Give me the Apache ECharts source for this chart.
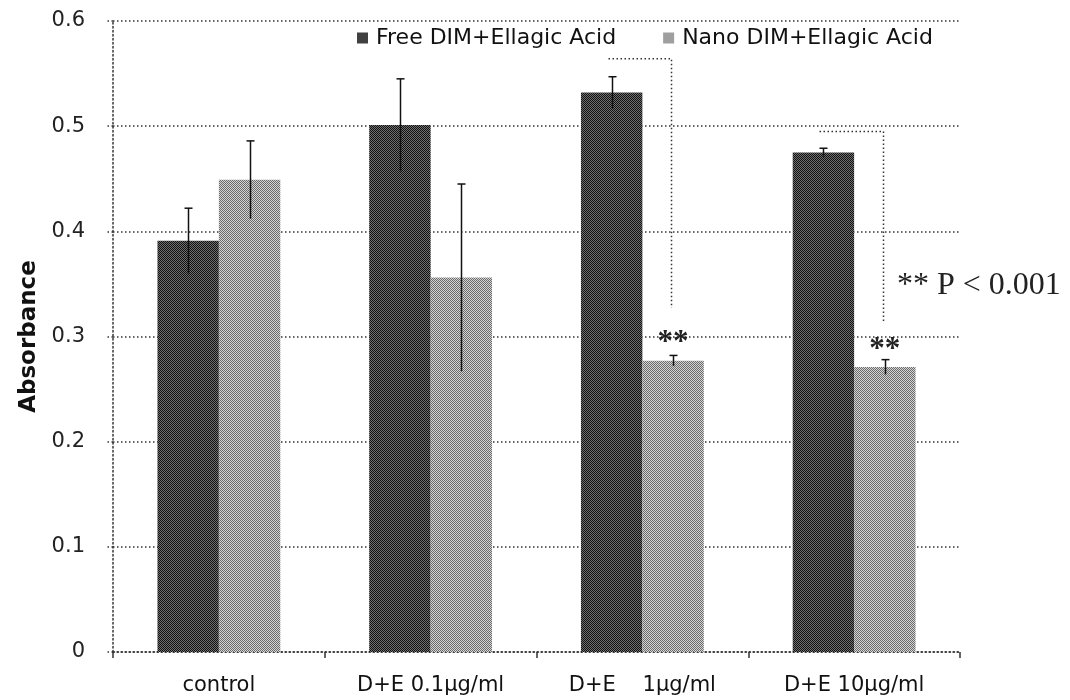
<!DOCTYPE html>
<html>
<head>
<meta charset="utf-8">
<script src="https://cdn.jsdelivr.net/npm/echarts@6/dist/echarts.min.js"></script>
<style>
  html, body { margin: 0; padding: 0; background: #fff; }
  #chart { width: 1070px; height: 700px; }
</style>
</head>
<body>
<div id="chart"></div>
<script>
// Absorbance of free vs. nano DIM + Ellagic Acid formulations
const categories = ['control', 'D+E 0.1µg/ml', 'D+E    1µg/ml', 'D+E 10µg/ml'];
const seriesNames = ['Free DIM+Ellagic Acid', 'Nano DIM+Ellagic Acid'];
const freeValues = [0.391, 0.501, 0.532, 0.475];
const freeErrors = [0.031, 0.044, 0.015, 0.004];
const nanoValues = [0.449, 0.356, 0.277, 0.271];
const nanoErrors = [0.037, 0.089, 0.005, 0.007];
const significant = [false, false, true, true];
const bracketTops = [null, null, 0.564, 0.495];
const bracketBottoms = [null, null, 0.327, 0.313];
const yTickLabels = ['0', '0.1', '0.2', '0.3', '0.4', '0.5', '0.6'];
const pNote = '** P < 0.001';

const CATEGORY_GAP = 0.42;
const DOT = [1.5, 2.5];

// 2x2 halftone tiles for the bar fills
function makePattern(cells) {
  const c = document.createElement('canvas');
  c.width = 2; c.height = 2;
  const ctx = c.getContext('2d');
  cells.forEach((col, i) => {
    ctx.fillStyle = col;
    ctx.fillRect(i % 2, Math.floor(i / 2), 1, 1);
  });
  return { image: c, repeat: 'repeat' };
}
const darkFill = makePattern(['#111111', '#707070', '#707070', '#111111']);
const lightFill = makePattern(['#6a6a6a', '#d4d4d4', '#d4d4d4', '#6a6a6a']);

function barHalfWidth(api) {
  const band = api.size([1, 0])[0];
  return band * (1 - CATEGORY_GAP) / 2 / 2;
}

// error bar (vertical line with a cap on top) centred on one bar of the pair
function errorRenderer(side) {
  return function (params, api) {
    const i = api.value(0), v = api.value(1), e = api.value(2);
    const hi = api.coord([i, v + e]);
    const lo = api.coord([i, v - e]);
    const x = Math.round(hi[0] + side * barHalfWidth(api)) + 0.5;
    const style = { stroke: '#111', lineWidth: 1.5 };
    return {
      type: 'group',
      children: [
        { type: 'line', shape: { x1: x, y1: hi[1], x2: x, y2: lo[1] }, style },
        { type: 'line', shape: { x1: x - 4, y1: hi[1], x2: x + 4, y2: hi[1] }, style }
      ]
    };
  };
}

// significance bracket: from the free bar across to the nano bar, then down
function bracketRenderer(params, api) {
  const i = api.value(0), top = api.value(1), bottom = api.value(2);
  const half = barHalfWidth(api);
  const a = api.coord([i, top]);
  const b = api.coord([i, bottom]);
  const xl = Math.round(a[0] - half - 4) + 0.5;
  const xr = Math.round(a[0] + half - 2) + 0.5;
  return {
    type: 'polyline',
    shape: { points: [[xl, a[1]], [xr, a[1]], [xr, b[1]]] },
    style: { stroke: '#333', lineWidth: 1.5, lineDash: DOT, fill: null }
  };
}

const freeErrData = categories.map((_, i) => [i, freeValues[i], freeErrors[i]]);
const nanoErrData = categories.map((_, i) => [i, nanoValues[i], nanoErrors[i]]);
const bracketData = categories
  .map((_, i) => [i, bracketTops[i], bracketBottoms[i]])
  .filter(d => d[1] !== null);

const nanoBarData = nanoValues.map((v, i) => significant[i] ? {
  value: v,
  label: {
    show: true, position: 'top', distance: 2, formatter: '**',
    fontFamily: 'Liberation Serif', fontSize: 31, fontWeight: 'bold', color: '#222'
  }
} : v);

const sansFont = 'DejaVu Sans';
const chart = echarts.init(document.getElementById('chart'), null, { renderer: 'canvas' });

chart.setOption({
  animation: false,
  backgroundColor: '#ffffff',
  grid: { left: 113, right: 110, top: 21, bottom: 48, containLabel: false },
  legend: {
    data: seriesNames,
    left: 352, top: 22,
    itemWidth: 11, itemHeight: 11, itemGap: 47,
    icon: 'rect',
    textStyle: { fontFamily: sansFont, fontSize: 22, color: '#111', padding: [0, 0, 0, 3] }
  },
  xAxis: {
    type: 'category',
    data: categories,
    axisLine: { lineStyle: { color: '#333', width: 1.5, type: DOT } },
    axisTick: { show: true, length: 6, lineStyle: { color: '#333', width: 1.5 } },
    axisLabel: { fontFamily: sansFont, fontSize: 21, color: '#111', margin: 23 }
  },
  yAxis: {
    type: 'value',
    min: 0, max: 0.6, interval: 0.1,
    name: 'Absorbance',
    nameLocation: 'middle',
    nameGap: 72,
    nameTextStyle: { fontFamily: sansFont, fontSize: 23, fontWeight: 'bold', color: '#111' },
    axisLine: { show: true, lineStyle: { color: '#333', width: 1.5, type: DOT } },
    axisTick: { show: true, length: 6, lineStyle: { color: '#333', width: 1.5, type: DOT } },
    axisLabel: {
      fontFamily: sansFont, fontSize: 21, color: '#222', margin: 28,
      formatter: v => yTickLabels[Math.round(v * 10)]
    },
    splitLine: { show: true, lineStyle: { color: '#333', width: 1.5, type: DOT } }
  },
  series: [
    {
      name: seriesNames[0], type: 'bar', data: freeValues,
      barGap: '0%', barCategoryGap: (CATEGORY_GAP * 100) + '%',
      itemStyle: { color: darkFill }
    },
    {
      name: seriesNames[1], type: 'bar', data: nanoBarData,
      barGap: '0%', barCategoryGap: (CATEGORY_GAP * 100) + '%',
      itemStyle: { color: lightFill }
    },
    {
      type: 'custom', name: 'freeErr', renderItem: errorRenderer(-1),
      data: freeErrData, z: 5, encode: { x: 0, y: 1 }
    },
    {
      type: 'custom', name: 'nanoErr', renderItem: errorRenderer(1),
      data: nanoErrData, z: 5, encode: { x: 0, y: 1 }
    },
    {
      type: 'custom', name: 'brackets', renderItem: bracketRenderer,
      data: bracketData, z: 6, encode: { x: 0, y: [1, 2] }
    }
  ],
  graphic: [{
    type: 'text', left: 897, top: 270,
    style: { text: pNote, fontFamily: 'Liberation Serif', fontSize: 32, fill: '#222' }
  }]
});
</script>
</body>
</html>
